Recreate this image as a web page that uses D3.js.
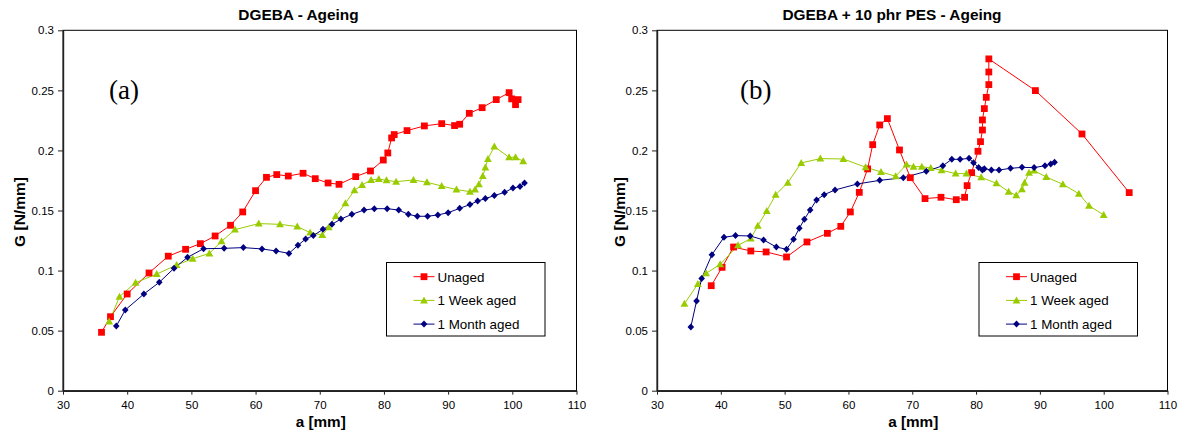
<!DOCTYPE html>
<html><head><meta charset="utf-8">
<script src="https://cdn.jsdelivr.net/npm/d3@7/dist/d3.min.js"></script>
<style>body{margin:0;background:#fff}svg{display:block}</style>
</head><body>
<svg id="c" width="1181" height="432"></svg>
<script>
// ---- Data (a [mm], G [N/mm]) ----
const xTicks = [30,40,50,60,70,80,90,100,110];
const yTicks = [0,0.05,0.1,0.15,0.2,0.25,0.3];
const seriesNames = ["Unaged","1 Week aged","1 Month aged"];
const panelTitles = ["DGEBA - Ageing","DGEBA + 10 phr PES - Ageing"];
const panelTags = ["(a)","(b)"];

const aUnaged = [[36.0,0.0486],[37.4,0.0616],[40.0,0.0805],[43.4,0.098],[46.4,0.112],[49.1,0.1177],[51.4,0.1224],[53.7,0.1288],[56.1,0.1377],[58.0,0.1488],[60.0,0.1665],[61.7,0.1776],[63.3,0.1799],[65.1,0.1787],[67.4,0.181],[69.3,0.1765],[71.3,0.1729],[73.0,0.1718],[75.6,0.1782],[77.9,0.1829],[79.9,0.192],[80.6,0.1979],[81.2,0.2104],[81.6,0.2132],[83.6,0.2165],[86.3,0.2204],[89.0,0.2223],[91.0,0.2207],[91.8,0.2218],[93.3,0.2309],[95.3,0.2356],[97.5,0.2423],[99.5,0.2481],[99.9,0.2429],[100.5,0.2381],[100.9,0.2423]];
const aWeek = [[37.2,0.0575],[38.8,0.0783],[41.3,0.0899],[44.6,0.0971],[47.7,0.1046],[50.2,0.1099],[52.8,0.1143],[54.7,0.1243],[56.8,0.1341],[60.5,0.1391],[63.8,0.1385],[66.5,0.1366],[68.5,0.1316],[70.4,0.1296],[71.4,0.136],[72.5,0.1454],[74.0,0.156],[75.4,0.1668],[76.6,0.1712],[78.0,0.1754],[79.2,0.1762],[80.4,0.1751],[81.9,0.174],[84.6,0.1754],[86.7,0.1735],[89.0,0.1704],[91.3,0.1674],[93.4,0.1657],[94.2,0.1674],[94.8,0.1718],[95.4,0.1787],[95.8,0.1857],[96.2,0.1929],[97.2,0.2032],[99.5,0.1943],[100.5,0.1943],[101.7,0.191]];
const aMonth = [[38.3,0.0538],[39.7,0.0672],[42.6,0.0805],[45.0,0.0902],[47.3,0.1019],[49.4,0.111],[51.9,0.1182],[55.1,0.1185],[58.1,0.1191],[61.0,0.118],[63.2,0.1163],[65.2,0.1143],[66.6,0.121],[67.8,0.1263],[69.0,0.1291],[70.5,0.1343],[71.9,0.1385],[73.3,0.1429],[75.0,0.1468],[76.9,0.1504],[78.5,0.1515],[80.5,0.1515],[82.3,0.1504],[83.8,0.1468],[85.2,0.1452],[86.8,0.1452],[88.4,0.1463],[90.0,0.1482],[91.8,0.1518],[93.4,0.1549],[94.6,0.1579],[95.8,0.1599],[97.2,0.1624],[98.8,0.1651],[100.1,0.1687],[101.2,0.1699],[101.9,0.1729]];

const bUnaged = [[38.5,0.0874],[40.2,0.1027],[42.0,0.1196],[44.7,0.1163],[47.1,0.1155],[50.3,0.1113],[53.5,0.1238],[56.7,0.131],[58.8,0.1368],[60.3,0.1488],[61.7,0.1651],[63.0,0.1846],[63.8,0.2048],[64.9,0.2212],[66.1,0.2265],[68.0,0.2004],[69.7,0.1773],[72.0,0.1599],[74.5,0.161],[76.9,0.159],[78.2,0.161],[78.6,0.1707],[79.3,0.1815],[80.3,0.1993],[80.7,0.2073],[81.0,0.217],[81.0,0.2254],[81.3,0.2348],[81.6,0.2442],[82.0,0.2548],[82.0,0.2653],[82.0,0.2762],[89.3,0.2498],[96.6,0.2137],[104.0,0.1649]];
const bWeek = [[34.3,0.0724],[36.4,0.0888],[37.7,0.0977],[39.9,0.1052],[42.7,0.121],[44.7,0.1266],[45.8,0.1374],[47.2,0.1496],[48.6,0.1632],[50.5,0.1732],[52.6,0.1896],[55.6,0.1932],[59.2,0.1929],[62.7,0.186],[65.1,0.1821],[67.4,0.1785],[69.1,0.1882],[70.2,0.1865],[71.5,0.1865],[72.9,0.1854],[74.6,0.1835],[76.8,0.1807],[78.5,0.1807],[80.8,0.1776],[83.2,0.1726],[85.1,0.1657],[86.3,0.1626],[87.2,0.1676],[87.6,0.1732],[88.3,0.1815],[89.1,0.1832],[91.0,0.1779],[93.6,0.1718],[96.1,0.164],[97.7,0.154],[100.0,0.1463]];
const bMonth = [[35.3,0.053],[36.2,0.0747],[37.0,0.0935],[38.6,0.1132],[40.5,0.1277],[42.3,0.1291],[44.6,0.1288],[46.7,0.1255],[48.7,0.1196],[50.3,0.1177],[51.4,0.126],[52.3,0.1352],[53.1,0.1427],[54.0,0.1504],[55.0,0.1588],[56.2,0.1632],[57.9,0.1671],[61.4,0.1721],[64.9,0.1751],[68.6,0.1773],[72.2,0.1826],[74.8,0.1873],[76.2,0.1926],[77.5,0.1926],[78.9,0.1934],[79.6,0.1898],[80.4,0.1857],[81.0,0.1837],[81.3,0.1848],[82.4,0.1837],[83.6,0.1837],[85.4,0.1851],[87.2,0.1859],[89.1,0.1857],[90.8,0.1873],[91.7,0.1887],[92.3,0.1901]];

const colors = ["#FF0000","#99CC00","#000080"];
const FONT = "Arial, 'Liberation Sans', sans-serif";

const markerSquare = {draw(ctx){const r=3.4;ctx.rect(-r,-r,2*r,2*r);}};
const markerTri = {draw(ctx){ctx.moveTo(0,-4);ctx.lineTo(3.9,3);ctx.lineTo(-3.9,3);ctx.closePath();}};
const markerDiamond = {draw(ctx){ctx.moveTo(0,-3.5);ctx.lineTo(3.3,0);ctx.lineTo(0,3.5);ctx.lineTo(-3.3,0);ctx.closePath();}};
const symbols = [markerSquare, markerTri, markerDiamond];

const svg = d3.select("#c");

function drawPanel(p){
  const x = d3.scaleLinear().domain([30,110]).range([p.left,p.right]);
  const y = d3.scaleLinear().domain([0,0.3]).range([390.7,30.3]);
  const g = svg.append("g");

  g.append("rect").attr("x",p.left).attr("y",30.3).attr("width",p.right-p.left).attr("height",360.4)
    .attr("fill","none").attr("stroke","#000").attr("stroke-width",1);

  const xa = g.append("g").attr("transform","translate(0,390.7)")
    .call(d3.axisBottom(x).tickValues(xTicks).tickSize(4).tickSizeOuter(0).tickFormat(d3.format("d")));
  const ya = g.append("g").attr("transform",`translate(${p.left},0)`)
    .call(d3.axisLeft(y).tickValues(yTicks).tickSize(5).tickSizeOuter(0).tickFormat(d=>d===0?"0":String(+d.toFixed(2))));
  [xa,ya].forEach(a=>{
    a.selectAll("path").attr("stroke","#222").attr("stroke-width",1.4);
    a.selectAll("line").attr("stroke","#222");
    a.selectAll("text").attr("font-family",FONT).attr("font-size",11.5).attr("fill","#000");
  });
  xa.selectAll("text").attr("dy","0.95em").attr("y",7);
  ya.selectAll("text").attr("x",-9);

  g.append("text").attr("x",p.titleX).attr("y",19.5).attr("text-anchor","middle")
    .attr("font-family",FONT).attr("font-weight","bold").attr("font-size",15.4).text(p.title);
  g.append("text").attr("x",(p.left+p.right)/2+1).attr("y",427).attr("text-anchor","middle")
    .attr("font-family",FONT).attr("font-weight","bold").attr("font-size",15.3).text("a [mm]");
  g.append("text").attr("transform",`translate(${p.yLabX},212) rotate(-90)`).attr("text-anchor","middle")
    .attr("font-family",FONT).attr("font-weight","bold").attr("font-size",15.5).text("G [N/mm]");
  g.append("text").attr("x",p.tagX).attr("y",99).attr("font-family","'Liberation Serif','Times New Roman',serif")
    .attr("font-size",27).text(p.tag);

  const line = d3.line().x(d=>x(d[0])).y(d=>y(d[1]));
  p.series.forEach((s,i)=>{
    g.append("path").datum(s).attr("d",line).attr("fill","none").attr("stroke",colors[i]).attr("stroke-width",1);
  });
  p.series.forEach((s,i)=>{
    g.selectAll(null).data(s).enter().append("path")
      .attr("d",d3.symbol().type(symbols[i]))
      .attr("transform",d=>`translate(${x(d[0])},${y(d[1])})`)
      .attr("fill",colors[i]);
  });

  const lg = g.append("g");
  lg.append("rect").attr("x",p.legX).attr("y",262.5).attr("width",158.5).attr("height",73.5)
    .attr("fill","#fff").attr("stroke","#000").attr("stroke-width",1);
  seriesNames.forEach((n,i)=>{
    const cy = 276.7 + i*23.7;
    lg.append("line").attr("x1",p.legX+27).attr("x2",p.legX+48).attr("y1",cy).attr("y2",cy)
      .attr("stroke",colors[i]).attr("stroke-width",1);
    lg.append("path").attr("d",d3.symbol().type(symbols[i])())
      .attr("transform",`translate(${p.legX+37.5},${cy})`).attr("fill",colors[i]);
    lg.append("text").attr("x",p.legX+51).attr("y",cy+4.8).attr("font-family",FONT)
      .attr("font-size",13.4).text(n);
  });
}

drawPanel({left:63,right:576.5,title:panelTitles[0],titleX:298.5,yLabX:24.5,tag:panelTags[0],tagX:109,legX:386.5,series:[aUnaged,aWeek,aMonth]});
drawPanel({left:657,right:1167.5,title:panelTitles[1],titleX:892,yLabX:624.5,tag:panelTags[1],tagX:740,legX:979,series:[bUnaged,bWeek,bMonth]});
</script>
</body></html>
